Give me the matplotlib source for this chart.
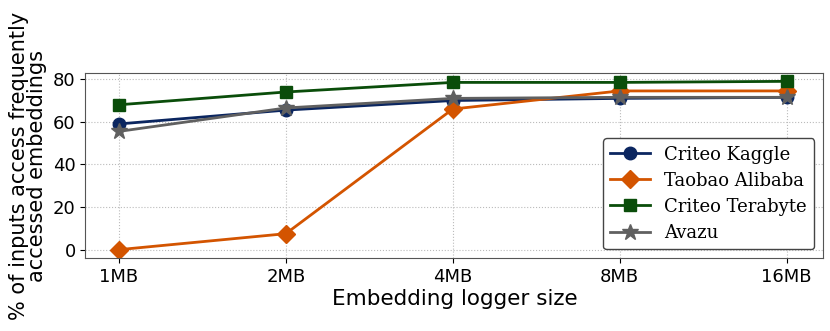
import numpy as np
import matplotlib
matplotlib.use("Agg")
import matplotlib.pyplot as plt

# dados
tamanhos = ["1MB", "2MB", "4MB", "8MB", "16MB"]
criteo_kaggle = [59, 65.5, 70, 71, 71.5]
taobao_alibaba = [0, 7.5, 66, 74.5, 74.5]
criteo_terabyte = [68, 74, 78.5, 78.5, 79]
avazu = [55.5, 66.5, 71, 71.5, 71.5]

x = np.arange(len(tamanhos))

fig, ax = plt.subplots(figsize=(8.3, 3.31), dpi=100)

ax.plot(x, criteo_kaggle, color="#0b2660", marker="o", markersize=9, lw=2, label="Criteo Kaggle")
ax.plot(x, taobao_alibaba, color="#d35400", marker="D", markersize=9, lw=2, label="Taobao Alibaba")
ax.plot(x, criteo_terabyte, color="#0a4d0a", marker="s", markersize=9, lw=2, label="Criteo Terabyte")
ax.plot(x, avazu, color="#606060", marker="*", markersize=12, lw=2, label="Avazu")

ax.set_xticks(x)
ax.set_xticklabels(tamanhos, fontsize=13)
ax.set_yticks([0, 20, 40, 60, 80])
ax.tick_params(axis="y", labelsize=13)
ax.set_xlim(-0.2, 4.22)
ax.set_ylim(-4, 83)

ax.grid(True, linestyle=":", color="#bbbbbb", lw=0.8)
for s in ax.spines.values():
    s.set_color("#555555")

ax.set_xlabel("Embedding logger size", fontsize=15.5, labelpad=2)
ax.set_ylabel("% of inputs access frequently\naccessed embeddings", fontsize=15, labelpad=4, linespacing=0.9)

leg = ax.legend(loc="lower right", prop={"family": "DejaVu Serif", "size": 13},
                framealpha=1, edgecolor="#444444", handlelength=2.2, borderaxespad=0.5,
                labelspacing=0.45)

fig.subplots_adjust(left=0.103, right=0.992, top=0.78, bottom=0.22)
fig.savefig("out.png", dpi=100)
